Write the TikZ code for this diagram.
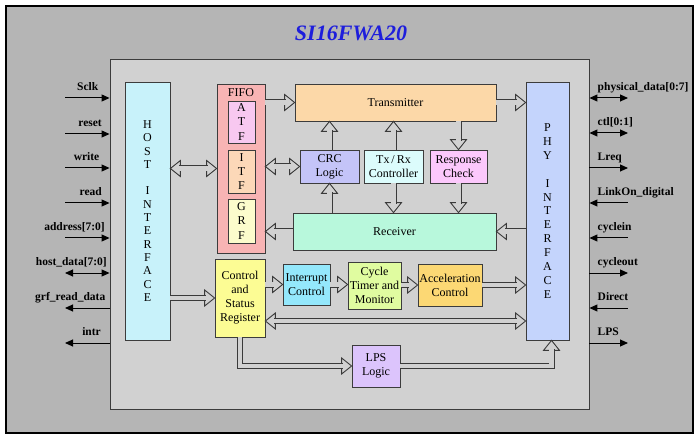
\documentclass[tikz,border=0pt]{standalone}
\usepackage{fontspec}
\setmainfont{Liberation Serif}
\usetikzlibrary{arrows.meta,calc}
\definecolor{outerbg}{HTML}{B5B5B5}
\definecolor{innerbg}{HTML}{D1D1D1}
\definecolor{boxline}{HTML}{3C3C3C}
\definecolor{arrline}{HTML}{3A3A3A}
\definecolor{titleblue}{HTML}{1E1EDC}
\definecolor{hostc}{HTML}{C8F2FA}
\definecolor{fifoc}{HTML}{F8B4B4}
\definecolor{atfc}{HTML}{F8C8F0}
\definecolor{itfc}{HTML}{FCD8B8}
\definecolor{grfc}{HTML}{FCFCCC}
\definecolor{transc}{HTML}{FCD8A8}
\definecolor{crcc}{HTML}{C4C4F8}
\definecolor{txrxc}{HTML}{DCFCFC}
\definecolor{respc}{HTML}{FCC8FC}
\definecolor{recvc}{HTML}{B8F8DC}
\definecolor{phyc}{HTML}{C4D4FC}
\definecolor{csrc}{HTML}{FCFC94}
\definecolor{intcc}{HTML}{94E8FC}
\definecolor{cycc}{HTML}{E0FCA0}
\definecolor{accc}{HTML}{FCD874}
\definecolor{lpsc}{HTML}{DCC4FC}
\tikzset{
  fathead/.style={fill=innerbg, draw=arrline, line width=0.9pt, line join=miter},
  shaft/.style={draw=arrline, line width=0.9pt, double=innerbg, double distance=4.2pt},
  blk/.style={draw=boxline, line width=0.8pt, inner sep=1pt, align=center,
    font=\fontsize{12}{14}\selectfont},
  pinlbl/.style={font=\fontsize{11.5}{13}\selectfont\bfseries, inner sep=0pt},
  pinln/.style={draw=black, line width=1pt, >={Triangle[length=8pt,width=7pt]}},
}
% head with tip at #1 pointing in canvas direction #2 (degrees)
\newcommand\headat[2]{\draw[fathead, shift={#1}, rotate=#2] (0,0) -- (-10,8) -- (-10,-8) -- cycle;}
% single-headed: #1 path, #2 tip point, #3 angle
\newcommand\fatone[3]{\headat{#2}{#3}\draw[shaft, shorten >=9pt] #1;}
% double-headed: #1 path, #2 start point, #3 start angle, #4 end point, #5 end angle
\newcommand\fattwo[5]{\headat{#2}{#3}\headat{#4}{#5}\draw[shaft, shorten >=9pt, shorten <=9pt] #1;}
\begin{document}
\begin{tikzpicture}[x=1pt,y=-1pt]
\useasboundingbox (0,0) rectangle (700,443);
\fill[white] (0,0) rectangle (700,443);
\node[draw=black, line width=1.5pt, fill=outerbg, minimum width=687pt, minimum height=427pt, inner sep=0pt] (outer) at (349.5,219.5) {};
\node[draw=boxline, line width=0.9pt, fill=innerbg, minimum width=479pt, minimum height=350pt, inner sep=0pt] (inner) at (349.5,234) {};
\node[font=\fontsize{22}{24}\selectfont\bfseries\itshape, text=titleblue, inner sep=0pt] (title) at (351,33) {SI16FWA20};

% blocks
\node[blk, fill=hostc, minimum width=45pt, minimum height=258pt, font=\fontsize{12}{13.3}\selectfont] (host) at (147.5,211)
  {H\\O\\S\\T\\[13.3pt]I\\N\\T\\E\\R\\F\\A\\C\\E};
\node[blk, fill=phyc, minimum width=43pt, minimum height=258pt, font=\fontsize{12}{13.9}\selectfont] (phy) at (547.5,211)
  {P\\H\\Y\\[13.9pt]I\\N\\T\\E\\R\\F\\A\\C\\E};
\node[blk, fill=fifoc, minimum width=48pt, minimum height=169pt] (fifo) at (241,168.5) {};
\node[font=\fontsize{12}{14}\selectfont, inner sep=0pt] (fifot) at (241,92.5) {FIFO};
\node[blk, fill=atfc, minimum width=27pt, minimum height=42pt, font=\fontsize{12}{14.3}\selectfont] (atf) at (241.5,122) {A\\T\\F};
\node[blk, fill=itfc, minimum width=27pt, minimum height=43pt, font=\fontsize{12}{14.3}\selectfont] (itf) at (241.5,171.5) {I\\T\\F};
\node[blk, fill=grfc, minimum width=27pt, minimum height=44pt, font=\fontsize{12}{14.3}\selectfont] (grf) at (241.5,221) {G\\R\\F};
\node[blk, fill=transc, minimum width=201pt, minimum height=37pt] (trans) at (395.5,102.5) {Transmitter};
\node[blk, fill=crcc, minimum width=59pt, minimum height=33pt] (crc) at (329.5,166.5) {CRC\\Logic};
\node[blk, fill=txrxc, minimum width=59pt, minimum height=33pt] (txrx) at (393.5,166.5) {Tx\,/\,Rx\\Controller};
\node[blk, fill=respc, minimum width=57pt, minimum height=33pt] (resp) at (458.5,166.5) {Response\\Check};
\node[blk, fill=recvc, minimum width=203pt, minimum height=37pt] (recv) at (394.5,231.5) {Receiver};
\node[blk, fill=csrc, minimum width=50pt, minimum height=78pt] (csr) at (240,298) {Control\\and\\Status\\Register};
\node[blk, fill=intcc, minimum width=47pt, minimum height=41pt] (intc) at (306.5,284.5) {Interrupt\\Control};
\node[blk, fill=cycc, minimum width=53pt, minimum height=47pt] (cyc) at (374.5,285.5) {Cycle\\Timer and\\Monitor};
\node[blk, fill=accc, minimum width=64pt, minimum height=42pt] (acc) at (450,285) {Acceleration\\Control};
\node[blk, fill=lpsc, minimum width=48pt, minimum height=42pt] (lps) at (376,366) {LPS\\Logic};

% fat arrows
\fattwo{(host.east |- fifo) -- (fifo.west)}{(host.east |- fifo)}{180}{(fifo.west)}{0}
\fatone{(fifo.east |- trans) -- (trans.west)}{(trans.west)}{0}
\fatone{(trans.east) -- (trans.east -| phy.west)}{(trans.east -| phy.west)}{0}
\fattwo{(fifo.east |- crc) -- (crc.west)}{(fifo.east |- crc)}{180}{(crc.west)}{0}
\fatone{(crc.north) -- (crc.north |- trans.south)}{(crc.north |- trans.south)}{90}
\fatone{(crc.south |- recv.north) -- (crc.south)}{(crc.south)}{90}
\fatone{(txrx.north) -- (txrx.north |- trans.south)}{(txrx.north |- trans.south)}{90}
\fatone{(txrx.south) -- (txrx.south |- recv.north)}{(txrx.south |- recv.north)}{-90}
\fatone{(resp.north |- trans.south) -- (resp.north)}{(resp.north)}{-90}
\fatone{(resp.south) -- (resp.south |- recv.north)}{(resp.south |- recv.north)}{-90}
\fatone{(recv.east -| phy.west) -- (recv.east)}{(recv.east)}{180}
\fatone{(recv.west) -- (recv.west -| fifo.east)}{(recv.west -| fifo.east)}{180}
\fatone{(host.east |- csr) -- (csr.west)}{(csr.west)}{0}
\fatone{(csr.east |- intc) -- (intc.west)}{(intc.west)}{0}
\fatone{(intc.east) -- (intc.east -| cyc.west)}{(intc.east -| cyc.west)}{0}
\fatone{(cyc.east |- acc) -- (acc.west)}{(acc.west)}{0}
\fatone{(acc.east) -- (acc.east -| phy.west)}{(acc.east -| phy.west)}{0}
\fattwo{([yshift=-23pt]csr.east) -- ([yshift=-23pt]csr.east -| phy.west)}{([yshift=-23pt]csr.east)}{180}{([yshift=-23pt]csr.east -| phy.west)}{0}
\fatone{(csr.south) |- (lps.west)}{(lps.west)}{0}
\fatone{(lps.east) -| ([xshift=4pt]phy.south)}{([xshift=4pt]phy.south)}{90}

% left pins
\coordinate (pa) at (65,98);
\coordinate (pb) at (65,134);
\coordinate (pc) at (65,168);
\coordinate (pd) at (65,203);
\coordinate (pe) at (65,238);
\coordinate (pf) at (65,273);
\coordinate (pg) at (65,308);
\coordinate (ph) at (65,343);
\draw[pinln,->] (pa) -- (pa -| inner.west);
\draw[pinln,->] (pb) -- (pb -| inner.west);
\draw[pinln,->] (pc) -- (pc -| inner.west);
\draw[pinln,->] (pd) -- (pd -| inner.west);
\draw[pinln,->] (pe) -- (pe -| inner.west);
\draw[pinln,<->] (pf) -- (pf -| inner.west);
\draw[pinln,<-] (pg) -- (pg -| inner.west);
\draw[pinln,<-] (ph) -- (ph -| inner.west);
\node[pinlbl, anchor=base east] (la) at (98.5,90.5) {Sclk};
\node[pinlbl, anchor=base east] (lb) at (102,126.5) {reset};
\node[pinlbl, anchor=base east] (lc) at (99.5,160.5) {write};
\node[pinlbl, anchor=base east] (ld) at (102,195.5) {read};
\node[pinlbl, anchor=base east] (le) at (105,230.5) {address[7:0]};
\node[pinlbl, anchor=base east] (lf) at (107,265.5) {host\_data[7:0]};
\node[pinlbl, anchor=base east] (lg) at (105.5,300.5) {grf\_read\_data};
\node[pinlbl, anchor=base east] (lh) at (101,335.5) {intr};

% right pins
\coordinate (qa) at (628,98);
\coordinate (qb) at (628,133);
\coordinate (qc) at (628,168);
\coordinate (qd) at (628,203);
\coordinate (qe) at (628,238);
\coordinate (qf) at (628,273);
\coordinate (qg) at (628,308);
\coordinate (qh) at (628,343);
\draw[pinln,<->] (qa -| inner.east) -- (qa);
\draw[pinln,<->] (qb -| inner.east) -- (qb);
\draw[pinln,->] (qc -| inner.east) -- (qc);
\draw[pinln,<-] (qd -| inner.east) -- (qd);
\draw[pinln,<-] (qe -| inner.east) -- (qe);
\draw[pinln,->] (qf -| inner.east) -- (qf);
\draw[pinln,<-] (qg -| inner.east) -- (qg);
\draw[pinln,->] (qh -| inner.east) -- (qh);
\node[pinlbl, anchor=base west] (ra) at (597.5,90.5) {physical\_data[0:7]};
\node[pinlbl, anchor=base west] (rb) at (597.5,125.5) {ctl[0:1]};
\node[pinlbl, anchor=base west] (rc) at (597.5,160.5) {Lreq};
\node[pinlbl, anchor=base west] (rd) at (597.5,195.5) {LinkOn\_digital};
\node[pinlbl, anchor=base west] (re) at (597.5,230.5) {cyclein};
\node[pinlbl, anchor=base west] (rf) at (597.5,265.5) {cycleout};
\node[pinlbl, anchor=base west] (rg) at (597.5,300.5) {Direct};
\node[pinlbl, anchor=base west] (rh) at (597.5,335.5) {LPS};
\end{tikzpicture}
\end{document}
